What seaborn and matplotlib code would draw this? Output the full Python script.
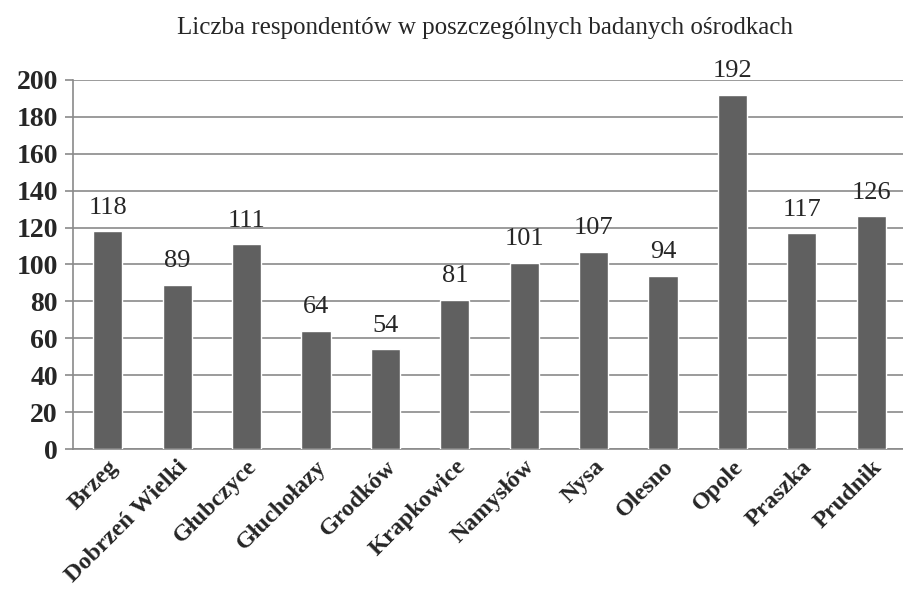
import matplotlib
matplotlib.use("Agg")
import matplotlib.pyplot as plt
import numpy as np
import pandas as pd
import seaborn as sns

# data
osrodki = ["Brzeg", "Dobrzeń Wielki", "Głubczyce", "Głuchołazy", "Grodków",
           "Krapkowice", "Namysłów", "Nysa", "Olesno", "Opole", "Praszka", "Prudnik"]
liczba = [118, 89, 111, 64, 54, 81, 101, 107, 94, 192, 117, 126]
y_ticks = list(range(0, 201, 20))

TITLE = "Liczba respondentów w poszczególnych badanych ośrodkach"
BAR = "#606060"
GRID = "#8a8a8a"

sns.set_theme(style="white")
plt.rcParams["font.family"] = ["Liberation Serif", "DejaVu Serif"]

df = pd.DataFrame({"osrodek": osrodki, "liczba": liczba})

fig = plt.figure(figsize=(9.04, 5.95), dpi=100)
ax = fig.add_axes([0.081, 0.245, 0.921, 0.621])

sns.barplot(data=df, x="osrodek", y="liczba", color=BAR, width=0.42,
            saturation=1, ax=ax, zorder=3)

ax.set_ylim(0, 200)
ax.set_xlim(-0.5, len(osrodki) - 0.5)
ax.set_yticks(y_ticks)
ax.set_yticklabels([str(t) for t in y_ticks], fontsize=20, fontweight="bold")
ax.yaxis.grid(True, color=GRID, linewidth=1.2, zorder=0)
ax.set_axisbelow(True)

ax.set_xticks(range(len(osrodki)))
ax.set_xticklabels(osrodki, rotation=45, ha="right", rotation_mode="anchor",
                   fontsize=17.5, fontweight="bold")
ax.set_xticks(np.arange(-0.5, len(osrodki), 1), minor=True)
ax.tick_params(axis="x", which="major", length=0, pad=5)
ax.tick_params(axis="x", which="minor", length=6, color=GRID, width=1.2)
ax.tick_params(axis="y", which="major", length=6, color=GRID, width=1.2,
               left=True, pad=5)

for s in ["top", "right"]:
    ax.spines[s].set_visible(False)
for s in ["left", "bottom"]:
    ax.spines[s].set_color(GRID)
    ax.spines[s].set_linewidth(1.2)

ax.set_xlabel("")
ax.set_ylabel("")

for cont in ax.containers:
    ax.bar_label(cont, labels=[str(v) for v in liczba], padding=9, fontsize=19)

fig.text(0.537, 0.953, TITLE, ha="center", va="center", fontsize=18)

fig.savefig("out.png", dpi=100)
